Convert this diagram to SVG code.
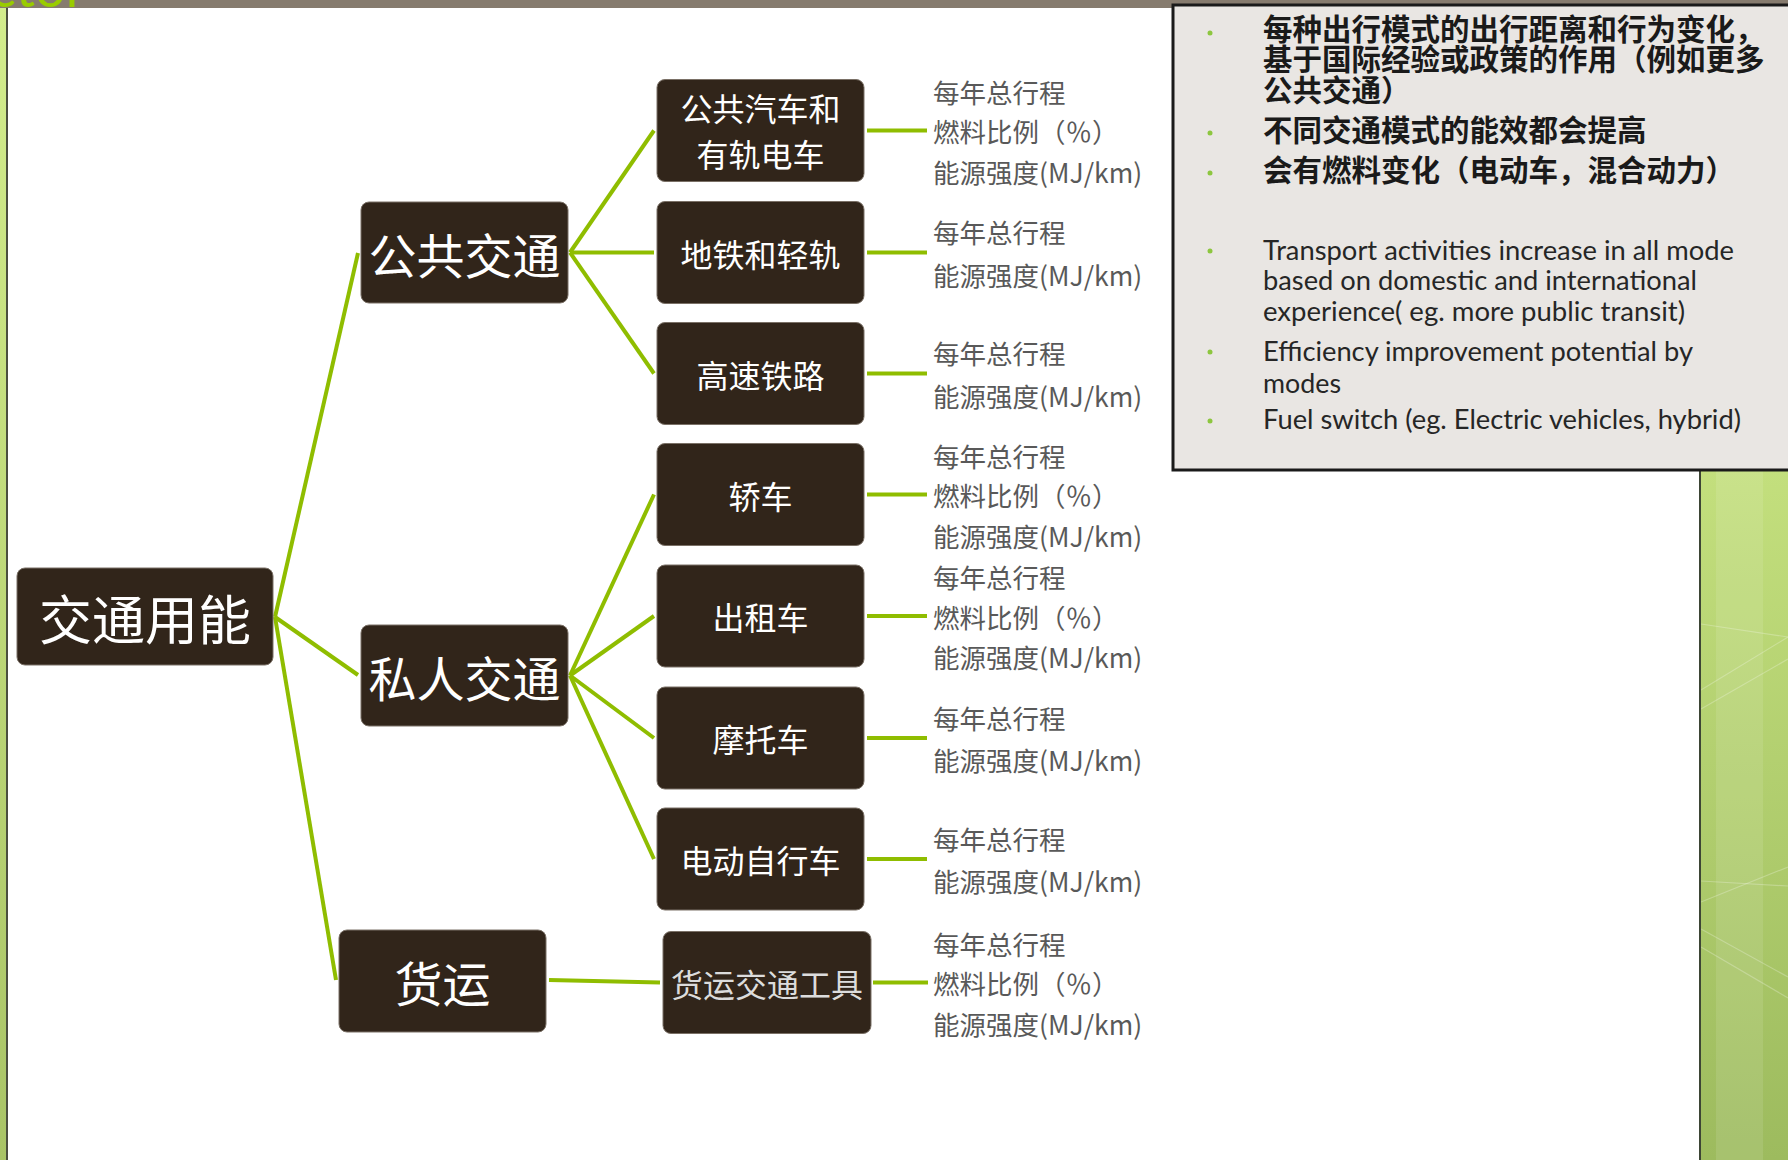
<svg xmlns="http://www.w3.org/2000/svg" width="1788" height="1160" viewBox="0 0 1788 1160">
<defs>
<style>
.node rect{fill:#31251a;stroke:#7a7066;stroke-width:1}
.node text{fill:#ffffff;font-family:"Noto Sans CJK SC","Noto Sans",sans-serif;text-anchor:middle;dominant-baseline:central}
.t1{font-size:53px}
.t2{font-size:48px}
.t3{font-size:32px}
.conn line{stroke:#8fbd00;stroke-width:4;stroke-linecap:butt}
.lbl text{fill:#595959;font-family:"Noto Sans CJK SC","Noto Sans",sans-serif;font-size:26.5px;dominant-baseline:central}
.cn{fill:#1a1a1a;font-family:"Noto Sans CJK SC",sans-serif;font-size:29.5px;font-weight:bold}
.en{fill:#262626;font-family:Lato,"Open Sans",sans-serif;font-size:26px}
.dot{fill:#8dc63f}
</style>
<linearGradient id="gR" x1="0" y1="0" x2="0" y2="1">
<stop offset="0" stop-color="#c3df7d"/>
<stop offset="1" stop-color="#9dbb5e"/>
</linearGradient>
<linearGradient id="gL" x1="0" y1="0" x2="0" y2="1">
<stop offset="0" stop-color="#d3ed8c"/>
<stop offset="1" stop-color="#a9c466"/>
</linearGradient>
</defs>
<rect x="0" y="0" width="1788" height="1160" fill="#ffffff"/>
<!-- background decoration -->
<g id="background">
<rect x="0" y="0" width="1788" height="8" fill="#867b6e"/>
<text x="-10" y="7" font-family="Lato,'Open Sans',sans-serif" font-size="54" fill="#99cc00">ctor</text>
<rect x="0" y="8" width="6" height="1152" fill="url(#gL)"/>
<rect x="6" y="8" width="2" height="1152" fill="#4b4f3f"/>
<rect x="1700" y="470" width="88" height="690" fill="url(#gR)"/>
<rect x="1716" y="470" width="47" height="690" fill="#ffffff" opacity="0.1"/>
<g stroke="#ffffff" stroke-opacity="0.25" stroke-width="1.2">
<line x1="1701" y1="624" x2="1788" y2="637"/>
<line x1="1701" y1="690" x2="1788" y2="637"/>
<line x1="1701" y1="709" x2="1788" y2="659"/>
<line x1="1701" y1="881" x2="1788" y2="886"/>
<line x1="1701" y1="902" x2="1788" y2="867"/>
<line x1="1701" y1="929" x2="1788" y2="977"/>
<line x1="1701" y1="947" x2="1788" y2="998"/>
</g>
<rect x="1699" y="470" width="2" height="690" fill="#3d4535"/>
</g>
<!-- info box -->
<g id="infobox">
<rect x="1173" y="5" width="640" height="465" fill="#e9e6e3" stroke="#1a1a1a" stroke-width="3"/>
<circle class="dot" cx="1210" cy="33" r="2.5"/>
<circle class="dot" cx="1210" cy="133" r="2.5"/>
<circle class="dot" cx="1210" cy="173" r="2.5"/>
<circle class="dot" cx="1210" cy="251" r="2.5"/>
<circle class="dot" cx="1210" cy="352" r="2.5"/>
<circle class="dot" cx="1210" cy="421" r="2.5"/>
<text class="cn" x="1263" y="40">每种出行模式的出行距离和行为变化，</text>
<text class="cn" x="1263" y="70">基于国际经验或政策的作用（例如更多</text>
<text class="cn" x="1263" y="101">公共交通）</text>
<text class="cn" x="1263" y="141">不同交通模式的能效都会提高</text>
<text class="cn" x="1263" y="181">会有燃料变化（电动车，混合动力）</text>
<text class="en" x="1263" y="260" textLength="471" lengthAdjust="spacingAndGlyphs">Transport activities increase in all mode</text>
<text class="en" x="1263" y="290" textLength="434" lengthAdjust="spacingAndGlyphs">based on domestic and international</text>
<text class="en" x="1263" y="321" textLength="422" lengthAdjust="spacingAndGlyphs">experience( eg. more public transit)</text>
<text class="en" x="1263" y="361" textLength="430" lengthAdjust="spacingAndGlyphs">Efficiency improvement potential by</text>
<text class="en" x="1263" y="393" textLength="78" lengthAdjust="spacingAndGlyphs">modes</text>
<text class="en" x="1263" y="429" textLength="478" lengthAdjust="spacingAndGlyphs">Fuel switch (eg. Electric vehicles, hybrid)</text>
</g>
<!-- connectors -->
<g id="connectors" class="conn">
<line x1="275" y1="617" x2="358" y2="253"/>
<line x1="275" y1="617" x2="358" y2="675"/>
<line x1="275" y1="617" x2="336" y2="980"/>
<line x1="570" y1="252.5" x2="654" y2="130.5"/>
<line x1="570" y1="252.5" x2="654" y2="252.5"/>
<line x1="570" y1="252.5" x2="654" y2="373.5"/>
<line x1="570" y1="675.5" x2="654" y2="494.5"/>
<line x1="570" y1="675.5" x2="654" y2="616"/>
<line x1="570" y1="675.5" x2="654" y2="738"/>
<line x1="570" y1="675.5" x2="654" y2="859"/>
<line x1="549" y1="980" x2="660" y2="982.5"/>
<line x1="867" y1="130.5" x2="927" y2="130.5"/>
<line x1="867" y1="252.5" x2="927" y2="252.5"/>
<line x1="867" y1="373.5" x2="927" y2="373.5"/>
<line x1="867" y1="494.5" x2="927" y2="494.5"/>
<line x1="867" y1="616" x2="927" y2="616"/>
<line x1="867" y1="738" x2="927" y2="738"/>
<line x1="867" y1="859" x2="927" y2="859"/>
<line x1="873" y1="982.5" x2="928" y2="982.5"/>
</g>
<!-- nodes -->
<g id="n-root" class="node"><rect x="17" y="568" width="256" height="97" rx="8"/><text class="t1" x="145" y="617">交通用能</text></g>
<g id="n-public" class="node"><rect x="361" y="202" width="207" height="101" rx="8"/><text class="t2" x="464.5" y="252.5">公共交通</text></g>
<g id="n-private" class="node"><rect x="361" y="625" width="207" height="101" rx="8"/><text class="t2" x="464.5" y="675.5">私人交通</text></g>
<g id="n-freight" class="node"><rect x="339" y="930" width="207" height="102" rx="8"/><text class="t2" x="442.5" y="981">货运</text></g>
<g id="n-bus" class="node"><rect x="657" y="79.5" width="207" height="102" rx="8"/><text class="t3" x="760.5" y="107">公共汽车和</text><text class="t3" x="760.5" y="153">有轨电车</text></g>
<g id="n-metro" class="node"><rect x="657" y="201.5" width="207" height="102" rx="8"/><text class="t3" x="760.5" y="252.5">地铁和轻轨</text></g>
<g id="n-hsr" class="node"><rect x="657" y="322.5" width="207" height="102" rx="8"/><text class="t3" x="760.5" y="373.5">高速铁路</text></g>
<g id="n-car" class="node"><rect x="657" y="443.5" width="207" height="102" rx="8"/><text class="t3" x="760.5" y="494.5">轿车</text></g>
<g id="n-taxi" class="node"><rect x="657" y="565" width="207" height="102" rx="8"/><text class="t3" x="760.5" y="616">出租车</text></g>
<g id="n-moto" class="node"><rect x="657" y="687" width="207" height="102" rx="8"/><text class="t3" x="760.5" y="738">摩托车</text></g>
<g id="n-ebike" class="node"><rect x="657" y="808" width="207" height="102" rx="8"/><text class="t3" x="760.5" y="859">电动自行车</text></g>
<g id="n-truck" class="node"><rect x="663" y="931.5" width="208" height="102" rx="8"/><text class="t3" x="767" y="982.5" style="fill:#dcdcdc">货运交通工具</text></g>
<!-- labels -->
<g id="labels" class="lbl">
<text x="933" y="91">每年总行程</text><text x="933" y="130.5">燃料比例（％）</text><text x="933" y="171">能源强度(MJ/km)</text>
<text x="933" y="231.5">每年总行程</text><text x="933" y="274">能源强度(MJ/km)</text>
<text x="933" y="352.5">每年总行程</text><text x="933" y="395">能源强度(MJ/km)</text>
<text x="933" y="455">每年总行程</text><text x="933" y="494.5">燃料比例（％）</text><text x="933" y="535">能源强度(MJ/km)</text>
<text x="933" y="576.5">每年总行程</text><text x="933" y="616">燃料比例（％）</text><text x="933" y="656.5">能源强度(MJ/km)</text>
<text x="933" y="717">每年总行程</text><text x="933" y="759.5">能源强度(MJ/km)</text>
<text x="933" y="838">每年总行程</text><text x="933" y="880.5">能源强度(MJ/km)</text>
<text x="933" y="943">每年总行程</text><text x="933" y="982.5">燃料比例（％）</text><text x="933" y="1023">能源强度(MJ/km)</text>
</g>
</svg>
